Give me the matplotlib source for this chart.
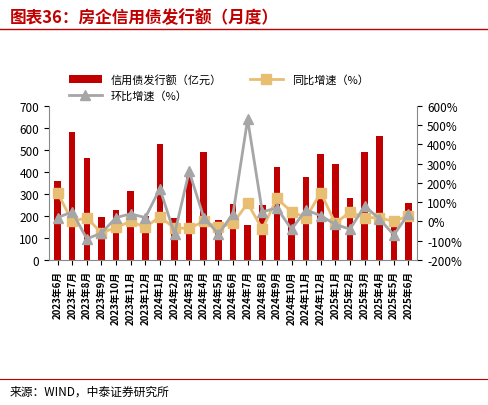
import matplotlib
matplotlib.use("Agg")
import matplotlib.pyplot as plt
import numpy as np

plt.rcParams['font.family'] = ['Noto Sans CJK SC', 'DejaVu Sans']

months = ["2023年6月","2023年7月","2023年8月","2023年9月","2023年10月","2023年11月","2023年12月",
          "2024年1月","2024年2月","2024年3月","2024年4月","2024年5月","2024年6月","2024年7月",
          "2024年8月","2024年9月","2024年10月","2024年11月","2024年12月","2025年1月","2025年2月",
          "2025年3月","2025年4月","2025年5月","2025年6月"]
issuance = [360, 580, 465, 195, 228, 315, 200, 528, 190, 385, 490, 180, 255, 160,
            250, 420, 195, 375, 480, 435, 280, 490, 565, 200, 260]
yoy = [150, 0, 20, -60, -30, 0, -30, 25, -35, -35, 0, -30, -10, 95,
       -40, 120, 50, 20, 150, -10, 50, 20, 20, 0, 30]
mom = [20, 50, -90, -60, 20, 40, 20, 170, -65, 260, 20, -65, 40, 530,
       50, 70, -40, 60, 30, -15, -40, 80, 15, -70, 40]

fig = plt.figure(figsize=(4.88, 4.06), dpi=100)
fig.text(0.02, 0.955, "图表36：房企信用债发行额（月度）", color="#C00000", fontsize=12,
         fontweight="bold", style="italic", va="center")
fig.add_artist(plt.Line2D([0.0, 1.0], [0.925, 0.925], color="#C00000", lw=1))
fig.add_artist(plt.Line2D([0.0, 1.0], [0.065, 0.065], color="#C00000", lw=0.8))
fig.text(0.02, 0.035, "来源：WIND，中泰证券研究所", fontsize=8.5, va="center")

ax = fig.add_axes([0.1, 0.357, 0.755, 0.38])
x = np.arange(len(months))
ax.bar(x, issuance, width=0.45, color="#C00000", label="信用债发行额（亿元）")
ax.set_ylim(0, 700)
ax.set_yticks(range(0, 701, 100))
ax.set_xlim(-0.6, len(months) - 0.4)
ax.set_xticks(x)
ax.set_xticklabels(months, rotation=90, fontsize=7, fontweight="bold")
ax.tick_params(axis='y', labelsize=8.5)
for s in ["top", "right"]:
    ax.spines[s].set_visible(False)
for s in ["left", "bottom"]:
    ax.spines[s].set_color("#888888")

ax2 = ax.twinx()
ax2.plot(x, yoy, color="#E8BF72", lw=2, marker="s", ms=7, label="同比增速（%）")
ax2.plot(x, mom, color="#A6A6A6", lw=2, marker="^", ms=7, label="环比增速（%）")
ax2.set_ylim(-200, 600)
ax2.set_yticks(range(-200, 601, 100))
ax2.set_yticklabels([f"{v}%" for v in range(-200, 601, 100)], fontsize=8.5)
for s in ["top", "left"]:
    ax2.spines[s].set_visible(False)
ax2.spines["right"].set_color("#888888")
ax2.spines["bottom"].set_visible(False)

h1, l1 = ax.get_legend_handles_labels()
h2, l2 = ax2.get_legend_handles_labels()
fig.legend([h1[0], h2[1], h2[0]], [l1[0], l2[1], l2[0]], ncol=2, frameon=False,
           fontsize=8, loc="upper left", bbox_to_anchor=(0.12, 0.84),
           columnspacing=2.5, handlelength=3)

fig.savefig("out.png", dpi=100)
